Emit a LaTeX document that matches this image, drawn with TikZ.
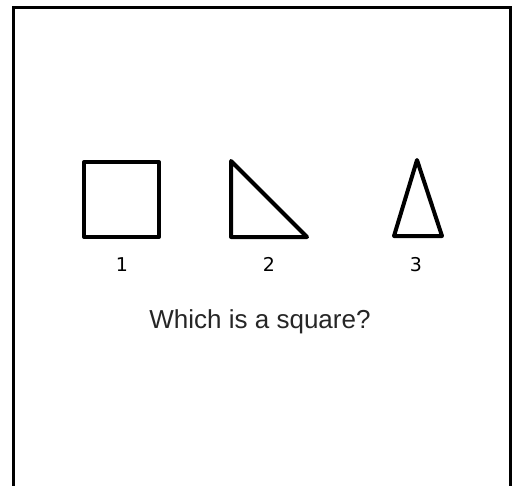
\documentclass[tikz,border=0pt]{standalone}
\usepackage{fontspec}
\setmainfont{Liberation Sans}
\newfontfamily\labelfont{DejaVu Sans}
\begin{document}
\begin{tikzpicture}[x=1pt,y=-1pt,
  figline/.style={line width=4pt,line join=round},
  framebox/.style={line width=3pt},
  numlabel/.style={font=\labelfont\fontsize{19}{22}\selectfont,inner sep=0pt,anchor=base},
  question/.style={font=\fontsize{26}{30}\selectfont,inner sep=0pt,text=black!85,anchor=base}]
\useasboundingbox (0,0) rectangle (518,485);
\fill[white] (0,0) rectangle (518,485);
\draw[framebox] (13.5,487) -- (13.5,7.5) -- (510.5,7.5) -- (510.5,487);
\draw[figline] (84,162) rectangle (159,237);
\draw[figline] (231,161) -- (231,237) -- (307,237) -- cycle;
\draw[figline] (417,160) -- (442,236) -- (394,236) -- cycle;
\node[numlabel] (l1) at (122,271) {1};
\node[numlabel] (l2) at (269,271) {2};
\node[numlabel] (l3) at (416,271) {3};
\node[question] (q) at (260,328) {Which is a square?};
\end{tikzpicture}
\end{document}
